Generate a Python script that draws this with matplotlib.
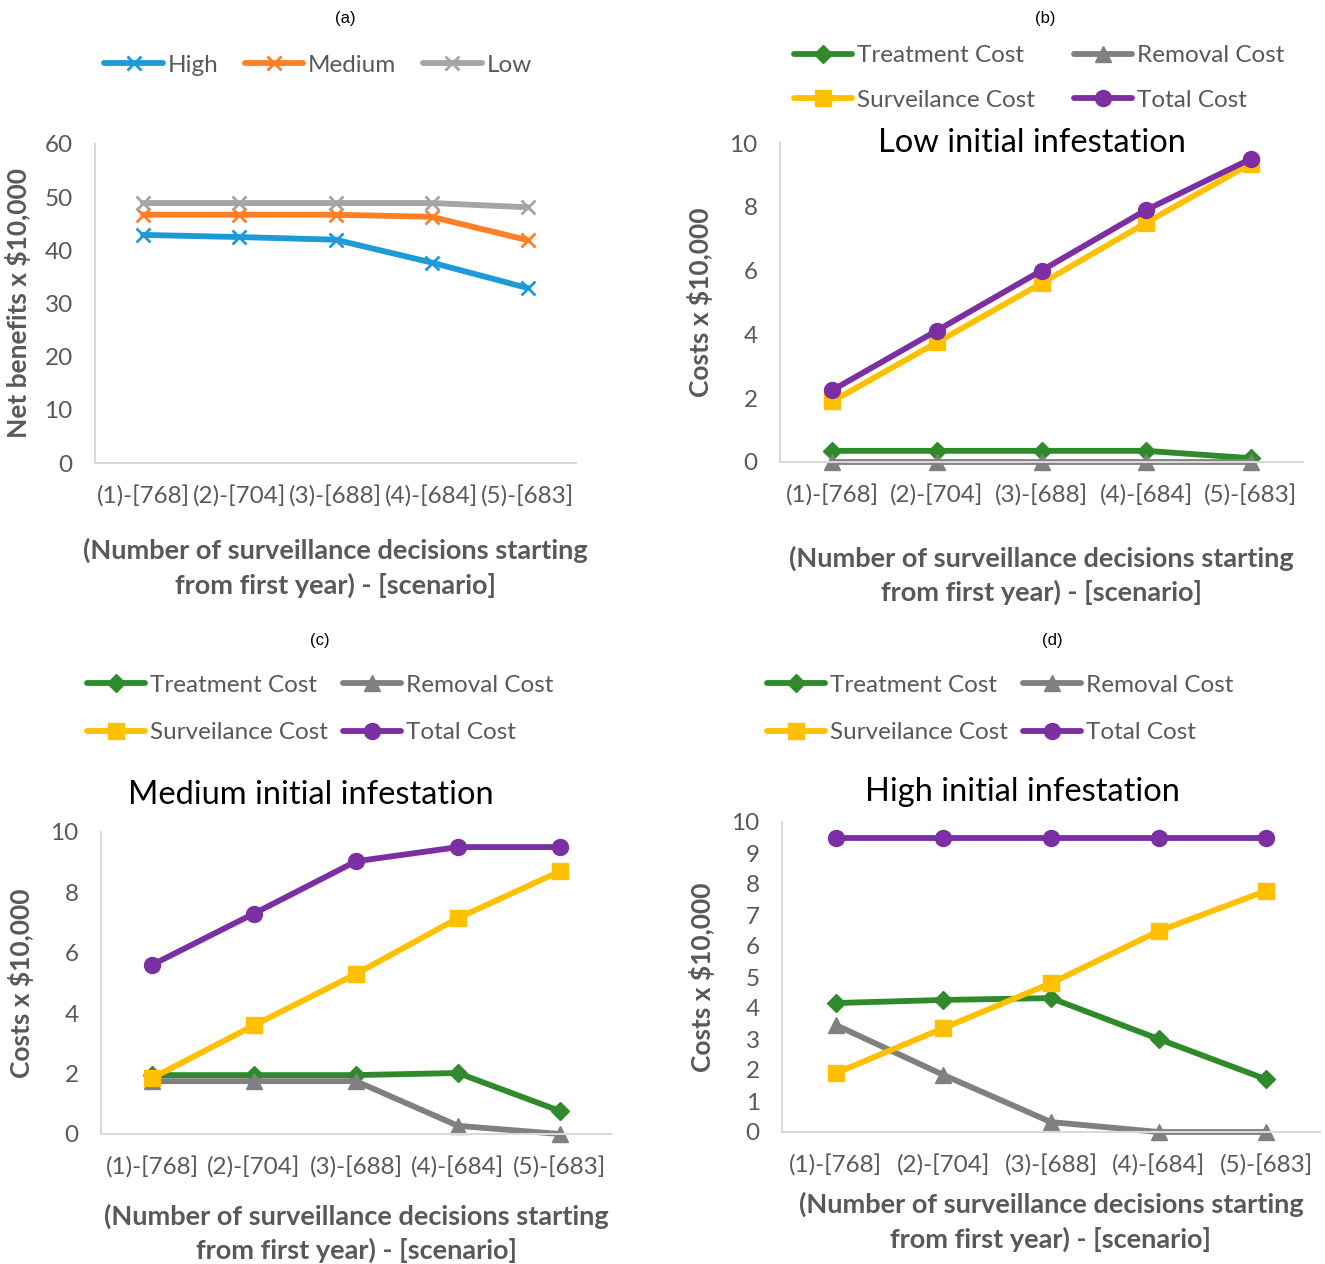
import matplotlib.pyplot as plt

plt.rcParams['font.family'] = ['Lato', 'DejaVu Sans']

W, H = 1325, 1264

scenarios = ['(1)-[768]', '(2)-[704]', '(3)-[688]', '(4)-[684]', '(5)-[683]']

# net benefits (x $10,000) by initial infestation level
net_high = [42.9, 42.5, 42.0, 37.7, 32.9]
net_medium = [46.7, 46.7, 46.7, 46.3, 41.9]
net_low = [48.9, 48.9, 48.9, 48.9, 48.1]

# cost breakdown (x $10,000), low initial infestation
low_treatment = [0.35, 0.35, 0.35, 0.35, 0.12]
low_removal = [0.0, 0.0, 0.0, 0.0, 0.0]
low_surveillance = [1.9, 3.75, 5.6, 7.5, 9.35]
low_total = [2.25, 4.12, 6.0, 7.9, 9.5]

# cost breakdown, medium initial infestation
med_treatment = [1.95, 1.95, 1.95, 2.02, 0.76]
med_removal = [1.75, 1.75, 1.75, 0.27, 0.0]
med_surveillance = [1.85, 3.6, 5.3, 7.15, 8.7]
med_total = [5.6, 7.3, 9.03, 9.5, 9.5]

# cost breakdown, high initial infestation
high_treatment = [4.16, 4.26, 4.32, 3.0, 1.7]
high_removal = [3.45, 1.84, 0.32, 0.0, 0.0]
high_surveillance = [1.9, 3.35, 4.8, 6.48, 7.78]
high_total = [9.48, 9.48, 9.48, 9.48, 9.48]

TXT = '#595959'
SPINE = '#d9d9d9'
LW = 4.2

cost_styles = [
    ('Treatment Cost', '#2f8a2b', 'D', 9.5),
    ('Removal Cost', '#808080', '^', 11.5),
    ('Surveilance Cost', '#ffc000', 's', 11.5),
    ('Total Cost', '#7b2fa2', 'o', 11.5),
]


def box(l, t, r, b):
    return [l / W, 1 - b / H, (r - l) / W, (b - t) / H]


def style_axes(ax, ylim, yticks, ylabel, xlabel_pad, ylabel_pad):
    x = range(len(scenarios))
    ax.set_xlim(-0.5, len(scenarios) - 0.5)
    ax.set_ylim(*ylim)
    ax.set_yticks(yticks)
    ax.set_xticks(list(x))
    ax.set_xticklabels(scenarios)
    for s in ['top', 'right']:
        ax.spines[s].set_visible(False)
    for s in ['left', 'bottom']:
        ax.spines[s].set_color(SPINE)
        ax.spines[s].set_linewidth(1.5)
    ax.tick_params(length=0, labelsize=17.5, colors=TXT)
    ax.tick_params(axis='x', pad=16)
    ax.tick_params(axis='y', pad=16)
    ax.set_ylabel(ylabel, fontsize=19, fontweight='bold', color=TXT,
                  labelpad=ylabel_pad)
    ax.set_xlabel('(Number of surveillance decisions starting\nfrom first year) - [scenario]',
                  fontsize=19.5, fontweight='bold', color=TXT, labelpad=xlabel_pad,
                  linespacing=1.45)
    for lab in ax.get_xticklabels() + ax.get_yticklabels():
        lab.set_clip_on(False)


def cost_panel(ax, series, title, title_y, legend_xy, colspace, rowspace,
               ylim, yticks, xlabel_pad, ylabel_pad):
    x = range(len(scenarios))
    handles = []
    for (label, color, marker, ms), values in zip(cost_styles, series):
        h, = ax.plot(x, values, color=color, lw=LW, marker=marker, ms=ms,
                     label=label, solid_capstyle='round', clip_on=False)
        handles.append(h)
    style_axes(ax, ylim, yticks, 'Costs x $10,000', xlabel_pad, ylabel_pad)
    fig.text(title[1] / W, 1 - title_y / H, title[0], fontsize=23.5,
             color='black', ha='center', va='center')
    order = [handles[0], handles[2], handles[1], handles[3]]
    leg = ax.legend(order, [h.get_label() for h in order], ncol=2,
                    loc='center', bbox_to_anchor=(legend_xy[0] / W, 1 - legend_xy[1] / H),
                    bbox_transform=fig.transFigure, frameon=False, fontsize=17.5,
                    handlelength=2.4, handletextpad=0.2, columnspacing=colspace,
                    labelspacing=rowspace, numpoints=1)
    for t in leg.get_texts():
        t.set_color(TXT)


fig = plt.figure(figsize=(W / 100, H / 100), dpi=100)

# (a) net benefits
ax_a = fig.add_axes(box(95, 144, 576, 463))
x = range(len(scenarios))
for label, color, values in [('High', '#1f9ad8', net_high),
                             ('Medium', '#ff7f27', net_medium),
                             ('Low', '#a5a5a5', net_low)]:
    ax_a.plot(x, values, color=color, lw=LW, marker='x', ms=10.5, mew=2,
              label=label, solid_capstyle='round', clip_on=False)
style_axes(ax_a, (0, 60), range(0, 61, 10), 'Net benefits x $10,000', 22, 10)
leg = ax_a.legend(ncol=3, loc='center', bbox_to_anchor=(318 / W, 1 - 65 / H),
                  bbox_transform=fig.transFigure, frameon=False, fontsize=17.5,
                  handlelength=2.4, handletextpad=0.2, columnspacing=1.1,
                  numpoints=1)
for t in leg.get_texts():
    t.set_color(TXT)

# (b) low initial infestation
ax_b = fig.add_axes(box(780, 143, 1303, 462))
cost_panel(ax_b, [low_treatment, low_removal, low_surveillance, low_total],
           ('Low initial infestation', 1032), 143, (1039, 78), 1.6, 0.95,
           (0, 10), range(0, 11, 2), 28, 12)

# (c) medium initial infestation
ax_c = fig.add_axes(box(101, 832, 611, 1134))
cost_panel(ax_c, [med_treatment, med_removal, med_surveillance, med_total],
           ('Medium initial infestation', 311), 795, (320, 709), 0.6, 1.1,
           (0, 10), range(0, 11, 2), 18, 12)

# (d) high initial infestation
ax_d = fig.add_axes(box(782, 822, 1320, 1132))
cost_panel(ax_d, [high_treatment, high_removal, high_surveillance, high_total],
           ('High initial infestation', 1022), 792, (1000, 709), 0.6, 1.1,
           (0, 10), range(0, 11, 1), 11, 12)

for lbl, px, py in [('(a)', 345, 18), ('(b)', 1045, 18), ('(c)', 320, 641), ('(d)', 1052, 641)]:
    fig.text(px / W, 1 - py / H, lbl, fontsize=12, family='Liberation Sans',
             ha='center', va='center', color='black')

fig.savefig('out.png', dpi=100)
